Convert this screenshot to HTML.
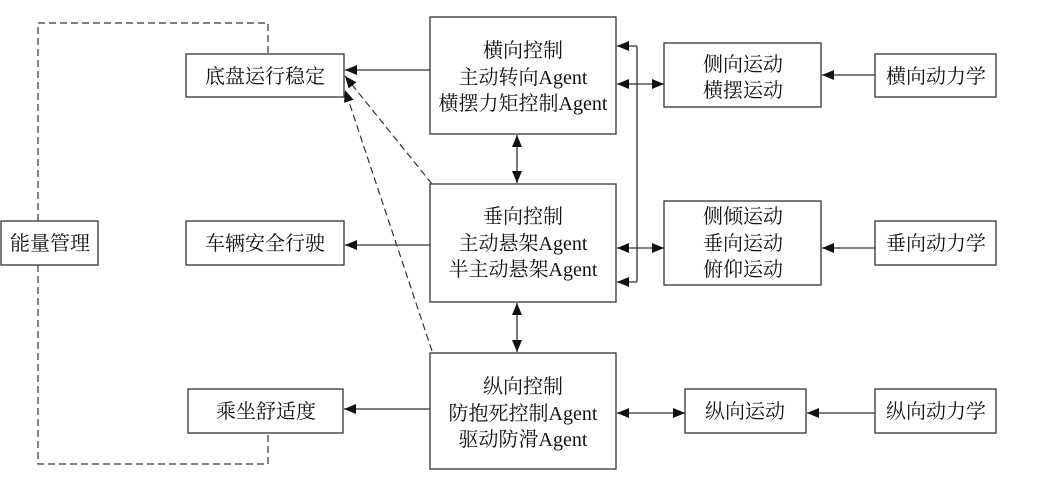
<!DOCTYPE html>
<html><head><meta charset="utf-8"><style>
html,body{margin:0;padding:0;background:#fff;}
svg{display:block;}
text{font-family:"Liberation Serif","Noto Serif CJK SC",serif;font-size:20px;fill:#111;text-anchor:middle;}
</style></head><body>
<svg width="1049" height="496" viewBox="0 0 1049 496" xmlns="http://www.w3.org/2000/svg">
<defs>
<marker id="a" markerWidth="12" markerHeight="10" refX="12" refY="5" orient="auto" markerUnits="userSpaceOnUse">
<path d="M0,0 L12,5 L0,10 Z" fill="#111"/></marker>
<marker id="s" markerWidth="12" markerHeight="10" refX="0" refY="5" orient="auto" markerUnits="userSpaceOnUse">
<path d="M12,0 L0,5 L12,10 Z" fill="#111"/></marker>
</defs>
<g fill="none" stroke="#333" stroke-width="1.3">
<rect x="186" y="54" width="158" height="43"/>
<rect x="186" y="221" width="158" height="44"/>
<rect x="188" y="389" width="155" height="44"/>
<rect x="1" y="221" width="97" height="44"/>
<rect x="430" y="17" width="186" height="117"/>
<rect x="430" y="184" width="186" height="118"/>
<rect x="430" y="353" width="186" height="116"/>
<rect x="664" y="43" width="157" height="64"/>
<rect x="664" y="201" width="157" height="84"/>
<rect x="685" y="389" width="121" height="44"/>
<rect x="875" y="54" width="121" height="43"/>
<rect x="875" y="221" width="121" height="44"/>
<rect x="875" y="389" width="121" height="44"/>
</g>
<g stroke="#333" stroke-width="1.3" fill="none">
<line x1="430" y1="70" x2="345" y2="70" marker-end="url(#a)"/>
<line x1="430" y1="245" x2="345" y2="245" marker-end="url(#a)"/>
<line x1="430" y1="409" x2="344" y2="409" marker-end="url(#a)"/>
<line x1="517" y1="135" x2="517" y2="183" marker-start="url(#s)" marker-end="url(#a)"/>
<line x1="517" y1="303" x2="517" y2="352" marker-start="url(#s)" marker-end="url(#a)"/>
<polyline points="637,46 637,282"/>
<line x1="637" y1="46" x2="617" y2="46" marker-end="url(#a)"/>
<line x1="637" y1="282" x2="617" y2="282" marker-end="url(#a)"/>
<line x1="617" y1="84" x2="664" y2="84" marker-start="url(#s)" marker-end="url(#a)"/>
<line x1="617" y1="248" x2="664" y2="248" marker-start="url(#s)" marker-end="url(#a)"/>
<line x1="617" y1="413" x2="685" y2="413" marker-start="url(#s)" marker-end="url(#a)"/>
<line x1="875" y1="75" x2="822" y2="75" marker-end="url(#a)"/>
<line x1="875" y1="248" x2="822" y2="248" marker-end="url(#a)"/>
<line x1="875" y1="413" x2="807" y2="413" marker-end="url(#a)"/>
</g>
<g stroke="#333" stroke-width="1.2" fill="none" stroke-dasharray="7,4">
<polyline points="38,221 38,23 268,23 268,54"/>
<polyline points="38,265 38,464 268,464 268,433"/>
<line x1="432" y1="184" x2="345" y2="76" marker-end="url(#a)"/>
<line x1="432" y1="351" x2="345" y2="90" marker-end="url(#a)"/>
</g>
<text x="265" y="83">底盘运行稳定</text>
<text x="265" y="250">车辆安全行驶</text>
<text x="266" y="418">乘坐舒适度</text>
<text x="50" y="250">能量管理</text>
<text x="523" y="57">横向控制</text>
<text x="523" y="84">主动转向Agent</text>
<text x="523" y="110">横摆力矩控制Agent</text>
<text x="523" y="223">垂向控制</text>
<text x="523" y="250">主动悬架Agent</text>
<text x="523" y="276">半主动悬架Agent</text>
<text x="523" y="393">纵向控制</text>
<text x="523" y="420">防抱死控制Agent</text>
<text x="523" y="446">驱动防滑Agent</text>
<text x="743" y="71">侧向运动</text>
<text x="743" y="97">横摆运动</text>
<text x="743" y="223">侧倾运动</text>
<text x="743" y="250">垂向运动</text>
<text x="743" y="276">俯仰运动</text>
<text x="745" y="418">纵向运动</text>
<text x="936" y="83">横向动力学</text>
<text x="936" y="250">垂向动力学</text>
<text x="936" y="418">纵向动力学</text>
</svg>
</body></html>
